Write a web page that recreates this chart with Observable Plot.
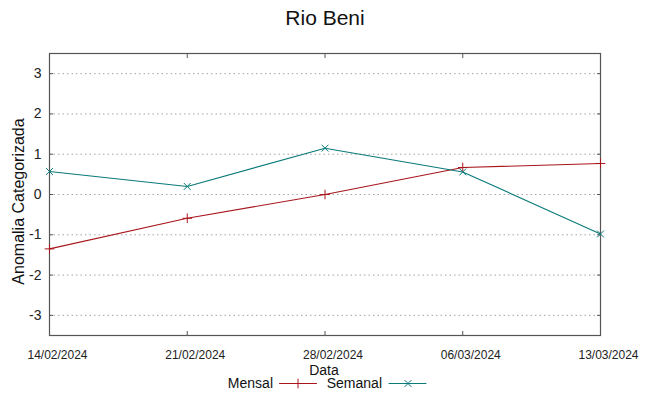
<!DOCTYPE html>
<html>
<head>
<meta charset="utf-8">
<script src="https://cdn.jsdelivr.net/npm/d3@7"></script>
<script src="https://cdn.jsdelivr.net/npm/@observablehq/plot@0.6"></script>
<style>
  html, body { margin: 0; padding: 0; background: #fff; }
  #chart svg { display: block; }
</style>
</head>
<body>
<div id="chart"></div>
<script>
const title = "Rio Beni";
const dates = ["2024-02-14", "2024-02-21", "2024-02-28", "2024-03-06", "2024-03-13"];
const mensal = [-1.35, -0.59, 0.0, 0.67, 0.77];
const semanal = [0.57, 0.20, 1.15, 0.56, -0.98];
const yTicks = [-3, -2, -1, 0, 1, 2, 3];
const seriesNames = ["Mensal", "Semanal"];
const colors = ["#a8161c", "#0b7a7a"];

const parse = d3.utcParse("%Y-%m-%d");
const xDates = dates.map(parse);
const rows = [];
xDates.forEach((d, i) => {
  rows.push({date: d, value: mensal[i], serie: seriesNames[0]});
  rows.push({date: d, value: semanal[i], serie: seriesNames[1]});
});
const mRows = rows.filter(r => r.serie === seriesNames[0]);
const sRows = rows.filter(r => r.serie === seriesNames[1]);

const font = "'Liberation Sans', Arial, sans-serif";
const lineShape = {draw(context, l) { context.moveTo(0, 0); context.lineTo(0, -l); }};
const frameColor = "#555";

const chart = Plot.plot({
  width: 648,
  height: 396,
  marginLeft: 49,
  marginRight: 48,
  marginTop: 53,
  marginBottom: 61,
  style: {fontFamily: font, background: "#fff", overflow: "visible"},
  x: {type: "utc", domain: [xDates[0], xDates[xDates.length - 1]]},
  y: {domain: [-3.5, 3.5]},
  marks: [
    Plot.gridY(yTicks, {stroke: "#999", strokeOpacity: 0.9, strokeDasharray: "1.5,3", strokeWidth: 1}),
    // inward ticks on all sides
    Plot.axisY(yTicks, {anchor: "left", tickSize: 0, tickPadding: 8, fontSize: 14, fill: "#222", label: null,
      tickFormat: d => String(d)}),
    Plot.axisY(yTicks, {anchor: "left", tickSize: -4, tickFormat: () => "", stroke: frameColor, label: null}),
    Plot.axisY(yTicks, {anchor: "right", tickSize: -4, tickFormat: () => "", stroke: frameColor, label: null}),
    Plot.axisX(xDates, {anchor: "bottom", tickSize: -4, tickFormat: () => "", stroke: frameColor, label: null}),
    Plot.axisX(xDates, {anchor: "top", tickSize: -4, tickFormat: () => "", stroke: frameColor, label: null}),
    Plot.axisX(xDates, {anchor: "bottom", tickSize: 0, tickPadding: 15, dx: 8, fontSize: 12, fill: "#222",
      tickFormat: d3.utcFormat("%d/%m/%Y"), label: null}),
    Plot.frame({stroke: frameColor, strokeWidth: 1.2}),
    Plot.lineY(mRows, {x: "date", y: "value", stroke: colors[0], strokeWidth: 1.1}),
    Plot.lineY(sRows, {x: "date", y: "value", stroke: colors[1], strokeWidth: 1.1}),
    Plot.dot(mRows, {x: "date", y: "value", symbol: "plus", stroke: colors[0], r: 3.2, strokeWidth: 1}),
    Plot.dot(sRows, {x: "date", y: "value", symbol: "times", stroke: colors[1], r: 3.2, strokeWidth: 1}),
    // title and axis titles
    Plot.text([title], {frameAnchor: "top", lineAnchor: "middle", dy: -35, fontSize: 21, fill: "#111", text: d => d}),
    Plot.text(["Anomalia Categorizada"], {frameAnchor: "left", textAnchor: "middle", lineAnchor: "middle", dx: -31, dy: 7, rotate: -90, fontSize: 16, fill: "#111", text: d => d}),
    Plot.text(["Data"], {frameAnchor: "bottom", lineAnchor: "middle", dx: -1, dy: 35.5, fontSize: 14, fill: "#111", text: d => d}),
    // legend
    Plot.text([seriesNames[0]], {frameAnchor: "bottom", lineAnchor: "middle", dx: -52, dy: 48, textAnchor: "end", fontSize: 14, fill: "#111", text: d => d}),
    Plot.vector([seriesNames[0]], {frameAnchor: "bottom", dx: -45.5, dy: 48, length: 37, rotate: 90, anchor: "start", shape: lineShape, stroke: colors[0], strokeWidth: 1.1}),
    Plot.dot([seriesNames[0]], {frameAnchor: "bottom", dx: -27, dy: 48, symbol: "plus", r: 3.2, stroke: colors[0], strokeWidth: 1}),
    Plot.text([seriesNames[1]], {frameAnchor: "bottom", lineAnchor: "middle", dx: 57, dy: 48, textAnchor: "end", fontSize: 14, fill: "#111", text: d => d}),
    Plot.vector([seriesNames[1]], {frameAnchor: "bottom", dx: 64, dy: 48, length: 37, rotate: 90, anchor: "start", shape: lineShape, stroke: colors[1], strokeWidth: 1.1}),
    Plot.dot([seriesNames[1]], {frameAnchor: "bottom", dx: 83, dy: 48, symbol: "times", r: 3.2, stroke: colors[1], strokeWidth: 1})
  ]
});
document.getElementById("chart").appendChild(chart);
</script>
</body>
</html>
